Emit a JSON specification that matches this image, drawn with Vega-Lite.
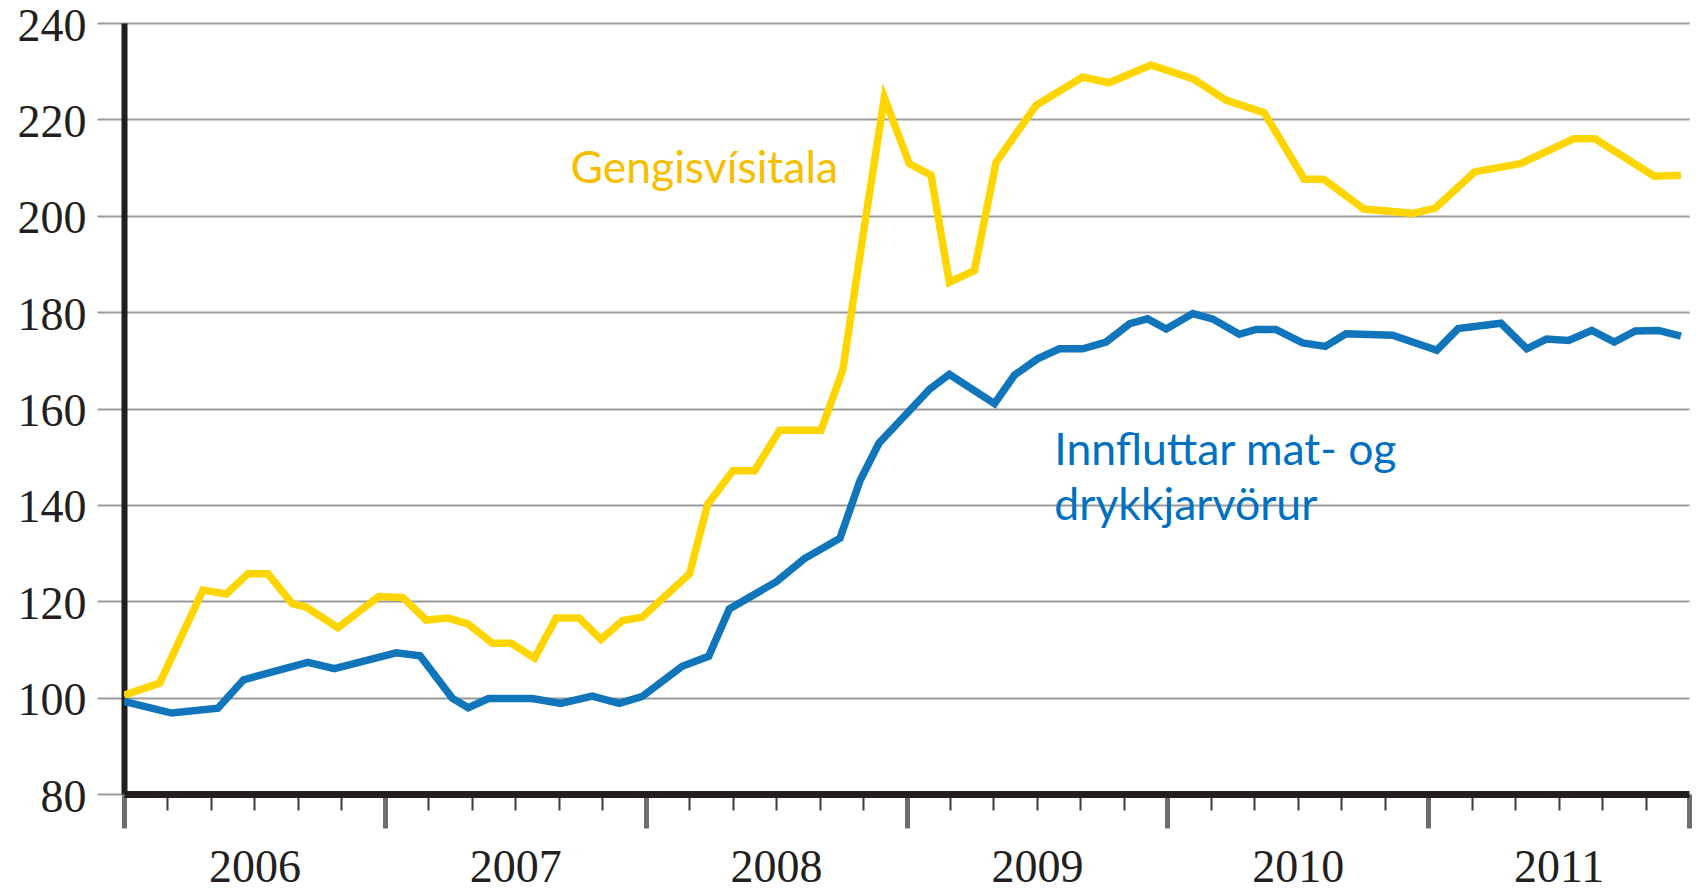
{
  "$schema": "https://vega.github.io/schema/vega-lite/v6.json",
  "width": 1565,
  "height": 771,
  "autosize": {"type": "none"},
  "padding": {"left": 124, "top": 23, "right": 12, "bottom": 96},
  "background": "white",
  "config": {
    "view": {"stroke": null},
    "axis": {"labelFont": "Liberation Serif", "labelColor": "#231f20", "labelFontSize": 46, "title": null}
  },
  "datasets": {
    "series": [
      {"serie": "Gengisvísitala", "m": 0, "v": 100.5},
      {"serie": "Gengisvísitala", "m": 1.64, "v": 103.0},
      {"serie": "Gengisvísitala", "m": 3.63, "v": 122.3},
      {"serie": "Gengisvísitala", "m": 4.71, "v": 121.5},
      {"serie": "Gengisvísitala", "m": 5.70, "v": 125.7},
      {"serie": "Gengisvísitala", "m": 6.62, "v": 125.7},
      {"serie": "Gengisvísitala", "m": 7.74, "v": 119.5},
      {"serie": "Gengisvísitala", "m": 8.38, "v": 118.8},
      {"serie": "Gengisvísitala", "m": 9.84, "v": 114.5},
      {"serie": "Gengisvísitala", "m": 11.72, "v": 121.0},
      {"serie": "Gengisvísitala", "m": 12.82, "v": 120.8},
      {"serie": "Gengisvísitala", "m": 13.90, "v": 116.1},
      {"serie": "Gengisvísitala", "m": 14.90, "v": 116.5},
      {"serie": "Gengisvísitala", "m": 15.82, "v": 115.3},
      {"serie": "Gengisvísitala", "m": 16.95, "v": 111.3},
      {"serie": "Gengisvísitala", "m": 17.81, "v": 111.3},
      {"serie": "Gengisvísitala", "m": 18.89, "v": 108.2},
      {"serie": "Gengisvísitala", "m": 19.88, "v": 116.5},
      {"serie": "Gengisvísitala", "m": 20.94, "v": 116.5},
      {"serie": "Gengisvísitala", "m": 21.94, "v": 112.1},
      {"serie": "Gengisvísitala", "m": 22.94, "v": 116.0},
      {"serie": "Gengisvísitala", "m": 23.83, "v": 116.7},
      {"serie": "Gengisvísitala", "m": 26.02, "v": 125.7},
      {"serie": "Gengisvísitala", "m": 26.85, "v": 140.1},
      {"serie": "Gengisvísitala", "m": 28.01, "v": 147.1},
      {"serie": "Gengisvísitala", "m": 29.01, "v": 147.1},
      {"serie": "Gengisvísitala", "m": 30.16, "v": 155.5},
      {"serie": "Gengisvísitala", "m": 32.07, "v": 155.5},
      {"serie": "Gengisvísitala", "m": 33.07, "v": 168.0},
      {"serie": "Gengisvísitala", "m": 34.00, "v": 196.0},
      {"serie": "Gengisvísitala", "m": 34.98, "v": 224.5},
      {"serie": "Gengisvísitala", "m": 36.13, "v": 210.8},
      {"serie": "Gengisvísitala", "m": 37.13, "v": 208.4},
      {"serie": "Gengisvísitala", "m": 37.97, "v": 186.2},
      {"serie": "Gengisvísitala", "m": 39.12, "v": 188.6},
      {"serie": "Gengisvísitala", "m": 40.12, "v": 211.1},
      {"serie": "Gengisvísitala", "m": 41.96, "v": 222.9},
      {"serie": "Gengisvísitala", "m": 44.11, "v": 228.8},
      {"serie": "Gengisvísitala", "m": 45.31, "v": 227.6},
      {"serie": "Gengisvísitala", "m": 47.25, "v": 231.3},
      {"serie": "Gengisvísitala", "m": 49.19, "v": 228.4},
      {"serie": "Gengisvísitala", "m": 50.70, "v": 224.0},
      {"serie": "Gengisvísitala", "m": 52.45, "v": 221.4},
      {"serie": "Gengisvísitala", "m": 54.30, "v": 207.6},
      {"serie": "Gengisvísitala", "m": 55.20, "v": 207.6},
      {"serie": "Gengisvísitala", "m": 57.04, "v": 201.4},
      {"serie": "Gengisvísitala", "m": 59.29, "v": 200.5},
      {"serie": "Gengisvísitala", "m": 60.33, "v": 201.6},
      {"serie": "Gengisvísitala", "m": 62.13, "v": 209.1},
      {"serie": "Gengisvísitala", "m": 64.24, "v": 210.8},
      {"serie": "Gengisvísitala", "m": 66.70, "v": 216.0},
      {"serie": "Gengisvísitala", "m": 67.67, "v": 216.0},
      {"serie": "Gengisvísitala", "m": 70.40, "v": 208.2},
      {"serie": "Gengisvísitala", "m": 71.63, "v": 208.4},
      {"serie": "Innfluttar", "m": 0, "v": 99.2},
      {"serie": "Innfluttar", "m": 2.19, "v": 96.8},
      {"serie": "Innfluttar", "m": 4.32, "v": 97.8},
      {"serie": "Innfluttar", "m": 5.50, "v": 103.7},
      {"serie": "Innfluttar", "m": 8.46, "v": 107.3},
      {"serie": "Innfluttar", "m": 9.68, "v": 106.0},
      {"serie": "Innfluttar", "m": 12.52, "v": 109.3},
      {"serie": "Innfluttar", "m": 13.62, "v": 108.7},
      {"serie": "Innfluttar", "m": 15.10, "v": 99.9},
      {"serie": "Innfluttar", "m": 15.84, "v": 97.9},
      {"serie": "Innfluttar", "m": 16.77, "v": 99.8},
      {"serie": "Innfluttar", "m": 18.78, "v": 99.8},
      {"serie": "Innfluttar", "m": 20.09, "v": 98.8},
      {"serie": "Innfluttar", "m": 21.54, "v": 100.3},
      {"serie": "Innfluttar", "m": 22.78, "v": 98.8},
      {"serie": "Innfluttar", "m": 23.83, "v": 100.2},
      {"serie": "Innfluttar", "m": 25.68, "v": 106.5},
      {"serie": "Innfluttar", "m": 26.90, "v": 108.6},
      {"serie": "Innfluttar", "m": 27.85, "v": 118.4},
      {"serie": "Innfluttar", "m": 30.03, "v": 124.1},
      {"serie": "Innfluttar", "m": 31.29, "v": 128.8},
      {"serie": "Innfluttar", "m": 32.94, "v": 133.1},
      {"serie": "Innfluttar", "m": 33.87, "v": 145.1},
      {"serie": "Innfluttar", "m": 34.73, "v": 152.8},
      {"serie": "Innfluttar", "m": 35.40, "v": 156.0},
      {"serie": "Innfluttar", "m": 37.06, "v": 164.0},
      {"serie": "Innfluttar", "m": 37.97, "v": 167.1},
      {"serie": "Innfluttar", "m": 40.05, "v": 161.0},
      {"serie": "Innfluttar", "m": 40.96, "v": 166.9},
      {"serie": "Innfluttar", "m": 42.03, "v": 170.3},
      {"serie": "Innfluttar", "m": 43.03, "v": 172.4},
      {"serie": "Innfluttar", "m": 44.11, "v": 172.4},
      {"serie": "Innfluttar", "m": 45.18, "v": 173.8},
      {"serie": "Innfluttar", "m": 46.27, "v": 177.6},
      {"serie": "Innfluttar", "m": 47.09, "v": 178.6},
      {"serie": "Innfluttar", "m": 47.95, "v": 176.5},
      {"serie": "Innfluttar", "m": 49.17, "v": 179.7},
      {"serie": "Innfluttar", "m": 50.08, "v": 178.6},
      {"serie": "Innfluttar", "m": 51.31, "v": 175.4},
      {"serie": "Innfluttar", "m": 52.08, "v": 176.4},
      {"serie": "Innfluttar", "m": 52.99, "v": 176.4},
      {"serie": "Innfluttar", "m": 54.22, "v": 173.6},
      {"serie": "Innfluttar", "m": 55.27, "v": 172.9},
      {"serie": "Innfluttar", "m": 56.22, "v": 175.5},
      {"serie": "Innfluttar", "m": 58.36, "v": 175.2},
      {"serie": "Innfluttar", "m": 60.40, "v": 172.1},
      {"serie": "Innfluttar", "m": 61.38, "v": 176.6},
      {"serie": "Innfluttar", "m": 63.35, "v": 177.7},
      {"serie": "Innfluttar", "m": 64.54, "v": 172.4},
      {"serie": "Innfluttar", "m": 65.44, "v": 174.4},
      {"serie": "Innfluttar", "m": 66.46, "v": 174.1},
      {"serie": "Innfluttar", "m": 67.53, "v": 176.2},
      {"serie": "Innfluttar", "m": 68.56, "v": 173.8},
      {"serie": "Innfluttar", "m": 69.53, "v": 176.1},
      {"serie": "Innfluttar", "m": 70.60, "v": 176.2},
      {"serie": "Innfluttar", "m": 71.63, "v": 175.0}
    ],
    "labels": [
      {"serie": "Gengisvísitala", "label": "Gengisvísitala", "m": 20.54, "v": 206.7},
      {"serie": "Innfluttar", "label": "Innfluttar mat- og", "m": 42.8, "v": 148.2},
      {"serie": "Innfluttar", "label": "drykkjarvörur", "m": 42.8, "v": 136.8}
    ]
  },
  "layer": [
    {
      "data": {"name": "series"},
      "mark": {"type": "line", "strokeWidth": 7.5, "strokeJoin": "miter", "strokeCap": "butt", "clip": true},
      "encoding": {
        "x": {
          "field": "m", "type": "quantitative",
          "scale": {"domain": [0, 72], "nice": false, "zero": false},
          "axis": {
            "values": [0,1,2,3,4,5,6,7,8,9,10,11,12,13,14,15,16,17,18,19,20,21,22,23,24,25,26,27,28,29,30,31,32,33,34,35,36,37,38,39,40,41,42,43,44,45,46,47,48,49,50,51,52,53,54,55,56,57,58,59,60,61,62,63,64,65,66,67,68,69,70,71,72],
            "labelExpr": "datum.value % 12 == 6 ? '' + (2006 + floor(datum.value / 12)) : ''",
            "labelOverlap": false,
            "labelFlush": false,
            "labelBaseline": "top",
            "labelPadding": 35,
            "grid": false,
            "domain": true,
            "domainColor": "#231f20",
            "domainWidth": 7,
            "ticks": true,
            "tickSize": {"condition": {"test": "datum.value % 12 == 0", "value": 34}, "value": 16},
            "tickWidth": {"condition": {"test": "datum.value % 12 == 0", "value": 5}, "value": 2},
            "tickColor": {"condition": {"test": "datum.value % 12 == 0", "value": "#6d6e71"}, "value": "#3a3a3a"}
          }
        },
        "y": {
          "field": "v", "type": "quantitative",
          "scale": {"domain": [80, 240], "nice": false, "zero": false},
          "axis": {
            "values": [80, 100, 120, 140, 160, 180, 200, 220, 240],
            "grid": true,
            "gridColor": "#9a9a9a",
            "gridWidth": 2,
            "domain": true,
            "domainColor": "#231f20",
            "domainWidth": 6,
            "tickColor": "#9a9a9a",
            "tickWidth": 2,
            "tickSize": 27,
            "labelPadding": 11,
            "labelOffset": 3,
            "labelBaseline": "middle"
          }
        },
        "color": {
          "field": "serie", "type": "nominal",
          "scale": {"domain": ["Gengisvísitala", "Innfluttar"], "range": ["#FFD500", "#1175BB"]},
          "legend": null
        }
      }
    },
    {
      "data": {"name": "labels"},
      "mark": {"type": "text", "font": "Lato", "fontSize": 44.5, "align": "left", "baseline": "alphabetic"},
      "encoding": {
        "x": {"field": "m", "type": "quantitative"},
        "y": {"field": "v", "type": "quantitative"},
        "text": {"field": "label"},
        "color": {
          "field": "serie", "type": "nominal",
          "scale": {"domain": ["Gengisvísitala", "Innfluttar"], "range": ["#F7BE00", "#0070C0"]},
          "legend": null
        }
      }
    }
  ],
  "resolve": {"scale": {"color": "independent"}}
}
